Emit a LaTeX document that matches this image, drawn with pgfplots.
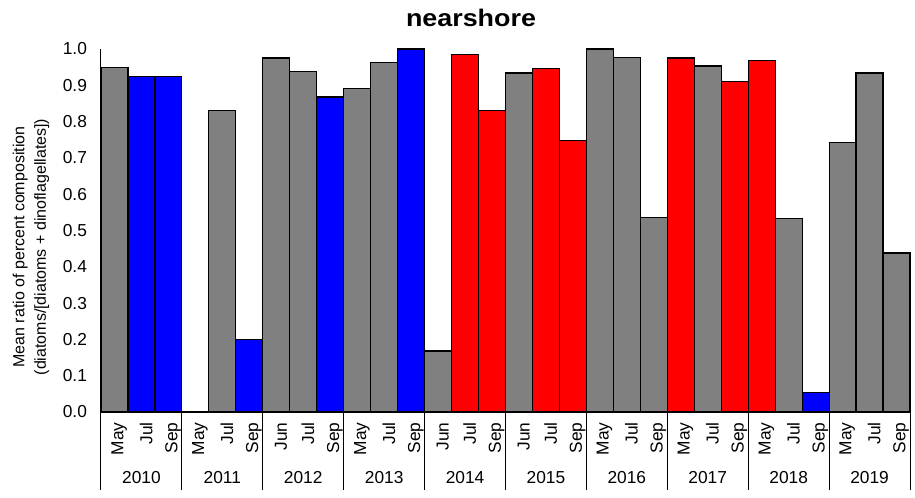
\documentclass[border=0pt]{standalone}
\usepackage{fontspec}
\setmainfont{Liberation Sans}
\usepackage{pgfplots}
\pgfplotsset{compat=1.18}

\definecolor{bgray}{HTML}{808080}
\definecolor{bblue}{HTML}{0000FF}
\definecolor{bred}{HTML}{FF0000}

\begin{document}
\begin{tikzpicture}
\useasboundingbox (-75.75pt,-63.75pt) rectangle (610.5pt,309pt);
\begin{axis}[
  at={(0,0)}, anchor=south west,
  width=606.75pt, height=272.25pt, scale only axis,
  xmin=-0.5, xmax=29.5, ymin=0, ymax=1,
  ybar, bar width=1, bar shift=0pt,
  axis x line*=bottom, axis y line*=left,
  axis line style={-, line width=0.75pt},
  clip=false,
  tick label style={font=\fontsize{13}{15}\selectfont},
  /pgf/number format/assume math mode=true,
  ytick={0,0.1,0.2,0.3,0.4,0.5,0.6,0.7,0.8,0.9,1},
  yticklabel style={xshift=-7pt, /pgf/number format/.cd, fixed, fixed zerofill, precision=1},
  ytick style={draw=none},
  xtick={0,...,29},
  xticklabels={May,Jul,Sep,May,Jul,Sep,Jun,Jul,Sep,May,Jul,Sep,Jun,Jul,Sep,
               Jun,Jul,Sep,May,Jul,Sep,May,Jul,Sep,May,Jul,Sep,May,Jul,Sep},
  xticklabel style={rotate=90, anchor=east, yshift=-3.5pt},
  xtick style={draw=none},
  ylabel={Mean ratio of percent composition\\(diatoms/[diatoms + dinoflagellates])},
  ylabel style={align=center, font=\fontsize{12}{16}\selectfont,
    at={(axis description cs:-0.0865,0.4545)}, anchor=center},
  every axis plot/.append style={draw=black, line width=0.9pt},
]
\addplot[fill=bgray] coordinates {
  (0,0.95) (3,0) (4,0.83) (6,0.975) (7,0.937) (9,0.892) (10,0.963)
  (12,0.168) (15,0.934) (18,1.0) (19,0.976) (20,0.536) (22,0.953)
  (25,0.532) (27,0.743) (28,0.934) (29,0.438)};
\addplot[fill=bblue] coordinates {
  (1,0.925) (2,0.925) (5,0.20) (8,0.868) (11,1.0) (26,0.054)};
\addplot[fill=bred] coordinates {
  (13,0.984) (14,0.831) (16,0.947) (17,0.748) (21,0.975) (23,0.910) (24,0.969)};

% year separators below the axis
\pgfplotsinvokeforeach{-0.5,2.5,5.5,8.5,11.5,14.5,17.5,20.5,23.5,26.5,29.5}{
  \draw[line width=0.75pt] (axis cs:#1,0) -- ([yshift=-58.5pt]axis cs:#1,0);
}
\pgfplotsinvokeforeach{2010,...,2019}{
  \node[anchor=base, font=\fontsize{13}{15}\selectfont]
    at ([yshift=-53.25pt]axis cs:{3*(#1-2010)+1},0) {#1};
}
\end{axis}
\node[anchor=base, font=\fontsize{18}{21}\selectfont\bfseries, xscale=1.12]
  at (277.5pt,288.75pt) {nearshore};
\end{tikzpicture}
\end{document}
